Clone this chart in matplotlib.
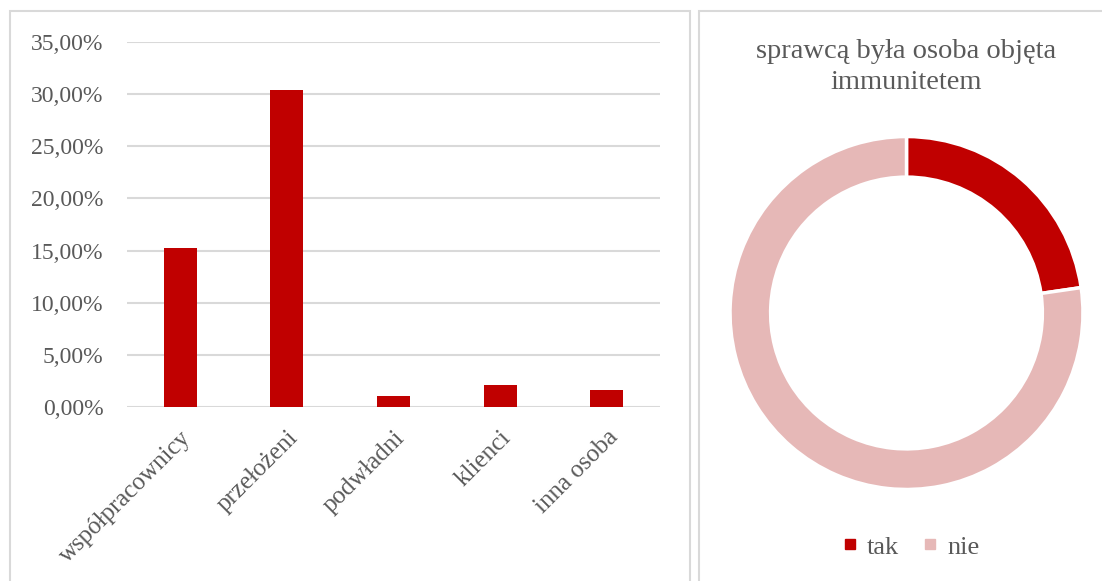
import matplotlib.pyplot as plt
from matplotlib.patches import Rectangle, Patch
from matplotlib.ticker import FuncFormatter

# dane
kategorie = ['współpracownicy', 'przełożeni', 'podwładni', 'klienci', 'inna osoba']
wartosci = [0.1525, 0.304, 0.0105, 0.021, 0.016]
ticks_y = [0, 0.05, 0.10, 0.15, 0.20, 0.25, 0.30, 0.35]

pie_labels = ['tak', 'nie']
pie_values = [22.7, 77.3]

RED = '#C00000'
PINK = '#E6B8B7'
TXT = '#595959'
GRID = '#D9D9D9'

plt.rcParams['font.family'] = ['Liberation Serif', 'DejaVu Serif']

W, H = 1102, 581
fig = plt.figure(figsize=(W / 100, H / 100), dpi=100)

def fx(px):
    return px / W

def fy(py):
    return 1 - py / H

# ramki paneli
fig.patches.append(Rectangle((fx(9.5), fy(600)), fx(690) - fx(9.5), fy(10.5) - fy(600),
                             transform=fig.transFigure, fill=False, edgecolor=GRID, lw=1.5))
fig.patches.append(Rectangle((fx(698.5), fy(600)), fx(1120) - fx(698.5), fy(10.5) - fy(600),
                             transform=fig.transFigure, fill=False, edgecolor=GRID, lw=1.5))

# wykres słupkowy
ax = fig.add_axes([fx(127), fy(407), fx(660) - fx(127), fy(42) - fy(407)])
x = range(len(kategorie))
ax.bar(x, wartosci, width=0.31, color=RED, zorder=3)
ax.set_xlim(-0.5, len(kategorie) - 0.5)
ax.set_ylim(0, 0.35)
ax.set_yticks(ticks_y)
ax.yaxis.set_major_formatter(FuncFormatter(lambda v, p: f'{v * 100:.2f}%'.replace('.', ',')))
ax.grid(axis='y', color=GRID, lw=1.5, zorder=0)
for s in ax.spines.values():
    s.set_visible(False)
ax.tick_params(axis='both', length=0, colors=TXT)
ax.tick_params(axis='y', pad=17, labelsize=17)
ax.tick_params(axis='x', pad=14, labelsize=18)
ax.set_xticks(list(x))
ax.set_xticklabels(kategorie, rotation=45, ha='right', rotation_mode='anchor')

# wykres pierścieniowy
ax2 = fig.add_axes([fx(906.5 - 180), fy(313 + 180), fx(360), 360 / H])
ax2.pie(pie_values, colors=[RED, PINK], startangle=90, counterclock=False,
        wedgeprops=dict(width=0.23, edgecolor='white', linewidth=2.5))
ax2.set_xlim(-1.02, 1.02)
ax2.set_ylim(-1.02, 1.02)
ax2.set_aspect('equal')
ax2.axis('off')

fig.text(fx(906.5), fy(67), 'sprawcą była osoba objęta\nimmunitetem', ha='center', va='center',
         fontsize=20.5, color=TXT, linespacing=1.35)

handles = [Patch(color=RED, label='tak'), Patch(color=PINK, label='nie')]
fig.legend(handles=handles, loc='center', bbox_to_anchor=(fx(912), fy(548)), ncol=2,
           frameon=False, fontsize=19, labelcolor=TXT, handlelength=0.38, handleheight=0.2,
           handletextpad=0.45, columnspacing=1.0)

fig.savefig('out.png', dpi=100)
